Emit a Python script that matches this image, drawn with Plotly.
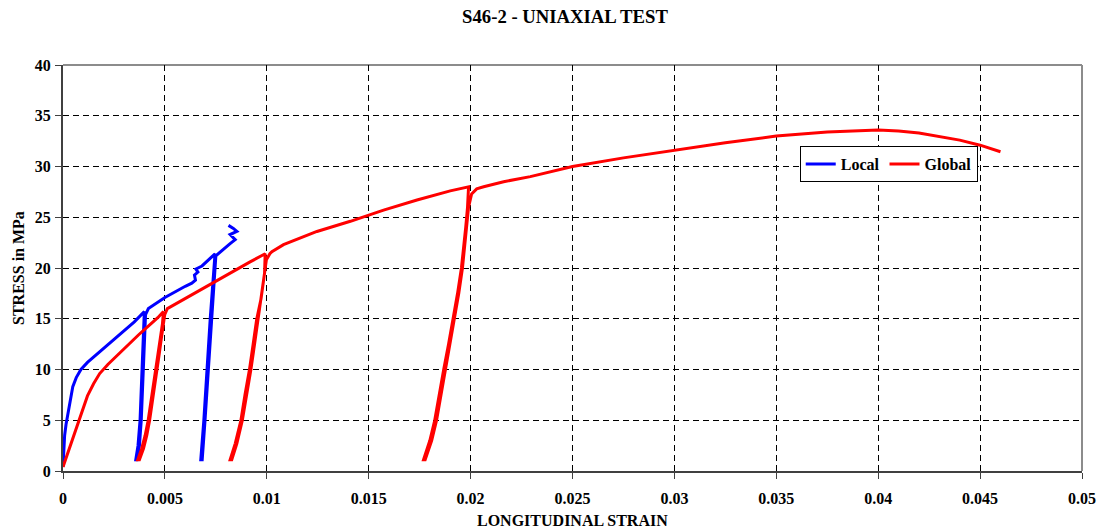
import plotly.graph_objects as go

# Local extensometer reading (strain, stress in MPa), with two unload/reload cycles
local_strain = [0, 0.00003, 0.00008, 0.00015, 0.00026, 0.00036, 0.00048, 0.00065, 0.00088, 0.0012,
                0.0016, 0.002, 0.0025, 0.003, 0.0035, 0.00399,
                0.00394, 0.00389, 0.00378, 0.00368, 0.00357,
                0.00363, 0.00375, 0.00384, 0.00393, 0.00399, 0.00405, 0.00419,
                0.0050, 0.0060, 0.00632, 0.00650, 0.00645, 0.00662, 0.00652, 0.00682, 0.00746,
                0.00722, 0.00707, 0.00691, 0.00676,
                0.00683, 0.00697, 0.00713, 0.00728, 0.0075,
                0.0082, 0.00845, 0.0082, 0.00853, 0.00836, 0.00812]
local_stress = [0.4, 2.0, 3.5, 4.6, 5.8, 7.2, 8.3, 9.2, 10.0, 10.7,
                11.4, 12.1, 12.9, 13.8, 14.7, 15.7,
                13.0, 10.0, 5.0, 2.5, 1.1,
                1.1, 2.5, 5.0, 10.0, 13.0, 15.4, 16.0,
                17.1, 18.2, 18.5, 18.8, 19.3, 19.6, 19.9, 20.2, 21.4,
                14.9, 10.0, 5.0, 1.1,
                1.1, 5.0, 10.0, 14.9, 21.2,
                22.4, 22.8, 23.3, 23.6, 23.9, 24.2]

# Global (whole specimen) reading, three unload/reload cycles then the post-peak branch
global_strain = [0, 0.0003, 0.0006, 0.0009, 0.0012, 0.0015, 0.0018, 0.0022, 0.0027, 0.0032,
                 0.0037, 0.0042, 0.00465, 0.00493,
                 0.00488, 0.00477, 0.00466, 0.00454, 0.00437, 0.00418, 0.00403, 0.00386, 0.00367,
                 0.00375, 0.00395, 0.00411, 0.00425, 0.00444, 0.00461, 0.00472, 0.00482, 0.00492,
                 0.00499, 0.00512,
                 0.00738, 0.00918, 0.00992,
                 0.00989, 0.00972, 0.00950, 0.00933, 0.00915, 0.00893, 0.00873, 0.00845, 0.0082,
                 0.00828, 0.00853, 0.00880, 0.00902, 0.00922, 0.00940, 0.00956, 0.00972, 0.00988,
                 0.00998, 0.01015, 0.01025,
                 0.01082, 0.01246, 0.0141, 0.01573, 0.01737, 0.0190, 0.0199,
                 0.01985, 0.01976, 0.01966, 0.01955, 0.01936, 0.01915, 0.01892, 0.01868, 0.01846,
                 0.01824, 0.01800, 0.01769,
                 0.01777, 0.01809, 0.01833, 0.01855, 0.01877, 0.01900, 0.01922, 0.01942, 0.01960,
                 0.01970, 0.01980, 0.01990, 0.02005, 0.02030, 0.02064,
                 0.02162, 0.02293, 0.025, 0.0275, 0.030, 0.0325, 0.035, 0.0375, 0.040,
                 0.041, 0.042, 0.043, 0.044, 0.045, 0.046]
global_stress = [0.4, 2.2, 4.0, 5.8, 7.4, 8.6, 9.6, 10.5, 11.5, 12.5,
                 13.4, 14.3, 15.1, 15.7,
                 14.5, 13.0, 11.5, 10.0, 7.5, 5.0, 3.5, 2.2, 1.1,
                 1.1, 2.2, 3.5, 5.0, 7.5, 10.0, 11.5, 13.0, 14.5,
                 15.4, 16.0,
                 18.6, 20.6, 21.4,
                 19.5, 17.0, 14.9, 12.5, 10.0, 7.5, 5.0, 2.7, 1.1,
                 1.1, 2.7, 5.0, 7.5, 10.0, 12.5, 14.9, 17.0, 19.5,
                 20.8, 21.4, 21.6,
                 22.3, 23.6, 24.6, 25.7, 26.7, 27.6, 28.0,
                 26.0, 24.0, 22.0, 20.0, 17.5, 15.0, 12.5, 10.0, 7.5,
                 5.0, 3.0, 1.1,
                 1.1, 3.0, 5.0, 7.5, 10.0, 12.5, 15.0, 17.5, 20.0,
                 22.0, 24.0, 26.0, 27.3, 27.8, 28.0,
                 28.5, 29.0, 30.0, 30.85, 31.6, 32.35, 33.0, 33.4, 33.6,
                 33.5, 33.3, 32.95, 32.6, 32.1, 31.45]

x_ticks = [0, 0.005, 0.01, 0.015, 0.02, 0.025, 0.03, 0.035, 0.04, 0.045, 0.05]
x_tick_text = ["0", "0.005", "0.01", "0.015", "0.02", "0.025", "0.03", "0.035", "0.04", "0.045", "0.05"]
y_ticks = [0, 5, 10, 15, 20, 25, 30, 35, 40]

FONT = "Liberation Serif, Times New Roman, serif"

fig = go.Figure()
fig.add_trace(go.Scatter(x=local_strain, y=local_stress, mode="lines", name="Local",
                         line=dict(color="#0000FF", width=3)))
fig.add_trace(go.Scatter(x=global_strain, y=global_stress, mode="lines", name="Global",
                         line=dict(color="#FF0000", width=3)))

axis_common = dict(
    showgrid=True, gridcolor="#000000", gridwidth=1, griddash="6px,4px",
    showline=True, linecolor="#404040", linewidth=2,
    ticks="outside", ticklen=6, tickcolor="#404040", tickwidth=1,
    zeroline=False, automargin=False,
    tickfont=dict(family=FONT, size=16, color="#000000", weight="bold"),
)

fig.update_xaxes(range=[0, 0.05], tickvals=x_ticks, ticktext=x_tick_text,
                 ticklabelstandoff=6, **axis_common)
fig.update_yaxes(range=[0, 40], tickvals=y_ticks, ticklabelstandoff=1, **axis_common)

# Light grey frame on the top and right of the plotting area
fig.add_shape(type="line", xref="paper", yref="paper", x0=0, x1=1, y0=1, y1=1,
              line=dict(color="#8c8c8c", width=2), layer="below")
fig.add_shape(type="line", xref="paper", yref="paper", x0=1, x1=1, y0=0, y1=1,
              line=dict(color="#8c8c8c", width=2), layer="below")

fig.add_annotation(text="LONGITUDINAL STRAIN", xref="paper", yref="paper",
                   x=0.5, y=-0.123, xanchor="center", yanchor="middle", showarrow=False,
                   font=dict(family=FONT, size=16, color="#000000", weight="bold"))
fig.add_annotation(text="STRESS in MPa", xref="paper", yref="paper",
                   x=-0.0442, y=0.5, xanchor="center", yanchor="middle", showarrow=False,
                   textangle=-90,
                   font=dict(family=FONT, size=16, color="#000000", weight="bold"))

fig.update_layout(
    width=1098, height=531,
    margin=dict(l=63, r=16, t=65, b=60),
    paper_bgcolor="#FFFFFF", plot_bgcolor="#FFFFFF",
    title=dict(text="S46-2 - UNIAXIAL TEST", xref="container", yref="container",
               x=565 / 1098, y=1 - 16 / 531, xanchor="center", yanchor="middle",
               font=dict(family=FONT, size=18.7, color="#000000", weight="bold")),
    legend=dict(orientation="h", x=0.723, y=0.8, xanchor="left", yanchor="top",
                bgcolor="#FFFFFF", bordercolor="#000000", borderwidth=1,
                font=dict(family=FONT, size=16, color="#000000", weight="bold"),
                itemwidth=30, tracegroupgap=0),
    showlegend=True,
)

fig.write_html("out.html")
